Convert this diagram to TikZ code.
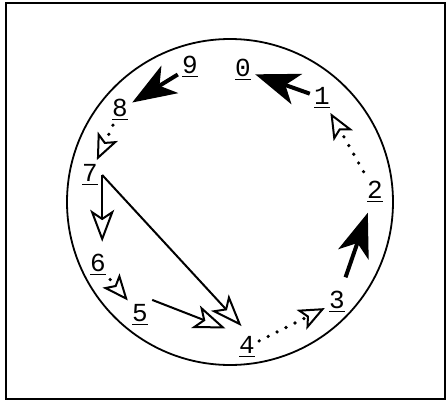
\documentclass[tikz,border=0pt]{standalone}
\usepackage{fontspec}
\setmainfont{Liberation Mono}
\usetikzlibrary{arrows.meta}

\tikzset{
  digit/.style={inner sep=2pt, font=\fontsize{13}{14}\selectfont},
  strongline/.style={line width=2pt, -{Stealth[length=22pt, width=16pt, inset=6pt]}},
  weakline/.style={line width=1pt, -{Stealth[open, length=16pt, width=12pt, inset=4pt, line width=1pt]}},
  dotline/.style={line width=1.8pt, line cap=round, dash pattern=on 0pt off 5pt,
    -{Stealth[open, length=13pt, width=11pt, inset=3pt, line width=1pt, line cap=butt]}}
}

\begin{document}
\begin{tikzpicture}[x=0.5pt, y=-0.5pt]
  \useasboundingbox (0,0) rectangle (446,402);
  % frame and ring
  \draw[line width=0.6pt] (6,3) rectangle (445,399);
  \draw[line width=0.9pt] (230,202) circle[radius=81.5pt];

  % positions
  \node[digit] (d0) at (243,70)  {\underline{0}};
  \node[digit] (d1) at (322,98)  {\underline{1}};
  \node[digit] (d2) at (375,192) {\underline{2}};
  \node[digit] (d3) at (337,302) {\underline{3}};
  \node[digit] (d4) at (247,347) {\underline{4}};
  \node[digit] (d5) at (140,315) {\underline{5}};
  \node[digit] (d6) at (98,265)  {\underline{6}};
  \node[digit] (d7) at (90,175)  {\underline{7}};
  \node[digit] (d8) at (120,110) {\underline{8}};
  \node[digit] (d9) at (190,67)  {\underline{9}};

  % links
  \draw[strongline] (d1) -- (d0);
  \draw[strongline] (d9) -- (d8);
  \draw[strongline, shorten <=5pt, shorten >=3pt] (d3) -- (d2);
  \draw[dotline, shorten <=3pt] (d2) -- (d1);
  \draw[dotline] (d8) -- (d7);
  \draw[dotline] (d6) -- (d5);
  \draw[dotline] (d4) -- (d3);
  \draw[weakline, shorten >=4pt] (d7.east) -- (d7.east |- d6.north);
  \draw[weakline, shorten >=4pt] (d7.east) -- (d4.north);
  \draw[weakline, shorten >=5pt] (d5.north east) -- (d4.north west);
\end{tikzpicture}
\end{document}
